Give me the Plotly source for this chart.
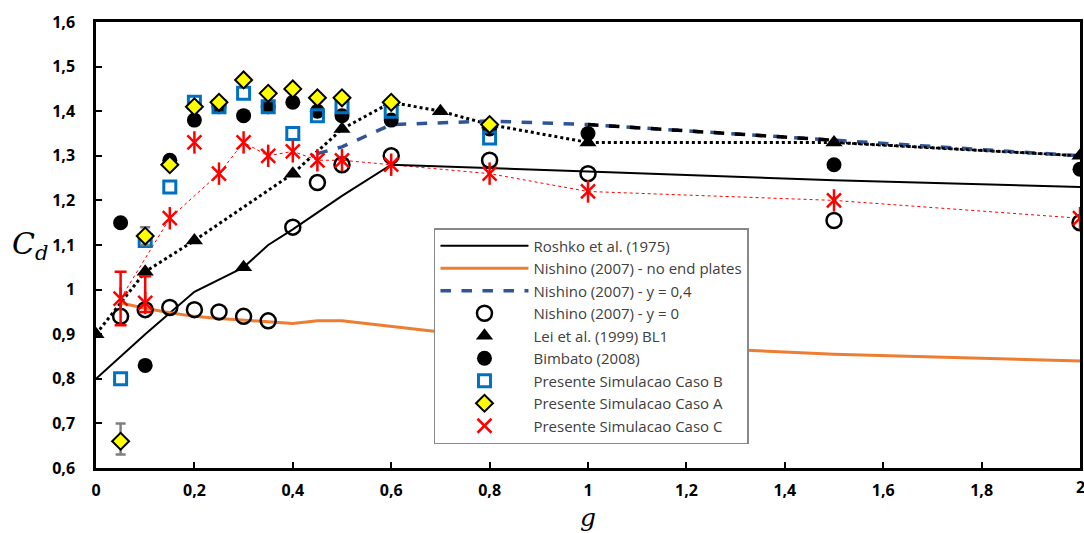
import plotly.graph_objects as go

# --- Roshko et al. (1975)
roshko_g = [0.0, 0.1, 0.2, 0.3, 0.35, 0.4, 0.5, 0.6, 1.0, 1.5, 2.0]
roshko_cd = [0.80, 0.90, 0.995, 1.05, 1.10, 1.135, 1.21, 1.28, 1.265, 1.245, 1.23]

# --- Nishino (2007), no end plates
nep_g = [0.05, 0.1, 0.15, 0.2, 0.25, 0.3, 0.35, 0.4, 0.45, 0.5, 0.6, 0.7, 0.8, 1.0, 1.2, 1.5, 2.0]
nep_cd = [0.97, 0.958, 0.948, 0.94, 0.935, 0.932, 0.928, 0.924, 0.93, 0.93, 0.918, 0.905, 0.895, 0.882, 0.87, 0.855, 0.84]

# --- Nishino (2007), y = 0,4
n04_g = [0.45, 0.5, 0.6, 0.8, 1.0, 1.5, 2.0]
n04_cd = [1.305, 1.32, 1.37, 1.378, 1.37, 1.335, 1.30]

# --- Nishino (2007), y = 0
n0_g = [0.05, 0.1, 0.15, 0.2, 0.25, 0.3, 0.35, 0.4, 0.45, 0.5, 0.6, 0.8, 1.0, 1.5, 2.0]
n0_cd = [0.94, 0.955, 0.96, 0.955, 0.95, 0.94, 0.93, 1.14, 1.24, 1.28, 1.30, 1.29, 1.26, 1.155, 1.15]

# --- Lei et al. (1999) BL1
lei_g = [0.0, 0.1, 0.2, 0.3, 0.4, 0.5, 0.6, 0.7, 0.8, 1.0, 1.5, 2.0]
lei_cd = [0.90, 1.04, 1.11, 1.05, 1.26, 1.36, 1.42, 1.40, 1.37, 1.33, 1.33, 1.30]
lei_linked = [0, 1, 2, 4, 5, 6, 7, 8, 9, 10, 11]

# --- Bimbato (2008)
bim_g = [0.05, 0.1, 0.15, 0.2, 0.25, 0.3, 0.35, 0.4, 0.45, 0.5, 0.6, 0.8, 1.0, 1.5, 2.0]
bim_cd = [1.15, 0.83, 1.29, 1.38, 1.41, 1.39, 1.41, 1.42, 1.40, 1.39, 1.38, 1.36, 1.35, 1.28, 1.27]

# --- Presente simulacao, caso B
cb_g = [0.05, 0.1, 0.15, 0.2, 0.25, 0.3, 0.35, 0.4, 0.45, 0.5, 0.6, 0.8]
cb_cd = [0.80, 1.11, 1.23, 1.42, 1.41, 1.44, 1.41, 1.35, 1.39, 1.41, 1.40, 1.34]

# --- Presente simulacao, caso A (with error bars on the first two points)
ca_g = [0.05, 0.1, 0.15, 0.2, 0.25, 0.3, 0.35, 0.4, 0.45, 0.5, 0.6, 0.8]
ca_cd = [0.66, 1.12, 1.28, 1.41, 1.42, 1.47, 1.44, 1.45, 1.43, 1.43, 1.42, 1.37]
ca_err_idx = [0, 1]
ca_err_plus = [0.04, 0.02]
ca_err_minus = [0.03, 0.02]

# --- Presente simulacao, caso C (with error bars on the first two points)
cc_g = [0.05, 0.1, 0.15, 0.2, 0.25, 0.3, 0.35, 0.4, 0.45, 0.5, 0.6, 0.8, 1.0, 1.5, 2.0]
cc_cd = [0.98, 0.97, 1.16, 1.33, 1.26, 1.33, 1.30, 1.31, 1.29, 1.29, 1.28, 1.26, 1.22, 1.20, 1.16]
cc_linked = [0, 2, 4, 5, 6, 7, 8, 9, 10, 11, 12, 13, 14]
cc_err_idx = [0, 1]
cc_err_plus = [0.06, 0.06]
cc_err_minus = [0.06, 0.02]

x_ticks = [0, 0.2, 0.4, 0.6, 0.8, 1.0, 1.2, 1.4, 1.6, 1.8, 2.0]
y_ticks = [0.6, 0.7, 0.8, 0.9, 1.0, 1.1, 1.2, 1.3, 1.4, 1.5, 1.6]

BLUE_DASH = "#2F5597"
ORANGE = "#ED7D31"
SQ_BLUE = "#0070C0"
TICK_FONT = dict(family="Open Sans", size=16, color="black", weight="bold")

PLOT_L, PLOT_W, PLOT_T, PLOT_H = 96, 987, 22, 446
X_STANDOFF = 6

fig = go.Figure()


def pick(vals, idx):
    return [vals[i] for i in idx]


# lines without legend entries
fig.add_trace(go.Scatter(x=pick(lei_g, lei_linked), y=pick(lei_cd, lei_linked), mode="lines",
                         line=dict(color="black", width=3, dash="dot"), showlegend=False, hoverinfo="skip"))
fig.add_trace(go.Scatter(x=pick(cc_g, cc_linked), y=pick(cc_cd, cc_linked), mode="lines",
                         line=dict(color="red", width=1, dash="dot"), showlegend=False, hoverinfo="skip"))

# legend entries, in order
fig.add_trace(go.Scatter(x=roshko_g, y=roshko_cd, mode="lines", name="Roshko et al. (1975)",
                         legendgroup="a", line=dict(color="black", width=2)))
fig.add_trace(go.Scatter(x=nep_g, y=nep_cd, mode="lines", name="Nishino (2007) - no end plates",
                         legendgroup="b", line=dict(color=ORANGE, width=3)))
fig.add_trace(go.Scatter(x=n04_g, y=n04_cd, mode="lines", name="Nishino (2007) - y = 0,4",
                         legendgroup="c", line=dict(color=BLUE_DASH, width=3.5, dash="dash")))
# the 1,0 - 1,5 stretch of the y = 0,4 curve is drawn in black
seg = [4, 5]
fig.add_trace(go.Scatter(x=pick(n04_g, seg), y=pick(n04_cd, seg), mode="lines", showlegend=False,
                         line=dict(color="black", width=3.5, dash="dash"), hoverinfo="skip"))
# dotted Lei line runs over the last blue segment
seg2 = [10, 11]
fig.add_trace(go.Scatter(x=pick(lei_g, seg2), y=pick(lei_cd, seg2), mode="lines", showlegend=False,
                         line=dict(color="black", width=2.5, dash="dot"), hoverinfo="skip"))

fig.add_trace(go.Scatter(x=n0_g, y=n0_cd, mode="markers", name="Nishino (2007) - y = 0", legendgroup="d",
                         marker=dict(symbol="circle-open", size=15, color="black", line=dict(width=2.5))))
fig.add_trace(go.Scatter(x=lei_g, y=lei_cd, mode="markers", name="Lei et al. (1999) BL1", legendgroup="e",
                         marker=dict(symbol="triangle-up", size=15, color="black")))
fig.add_trace(go.Scatter(x=bim_g, y=bim_cd, mode="markers", name="Bimbato (2008)", legendgroup="f",
                         marker=dict(symbol="circle", size=15, color="black")))
fig.add_trace(go.Scatter(x=cb_g, y=cb_cd, mode="markers", name="Presente Simulacao Caso B", legendgroup="g",
                         marker=dict(symbol="square-open", size=12, color=SQ_BLUE, line=dict(width=3))))

# error bars (caso A, grey)
fig.add_trace(go.Scatter(x=pick(ca_g, ca_err_idx), y=pick(ca_cd, ca_err_idx), mode="markers",
                         marker=dict(size=1, opacity=0), showlegend=False, hoverinfo="skip",
                         error_y=dict(type="data", symmetric=False, array=ca_err_plus, arrayminus=ca_err_minus,
                                      color="#7F7F7F", thickness=2.5, width=5)))
fig.add_trace(go.Scatter(x=ca_g, y=ca_cd, mode="markers", name="Presente Simulacao Caso A", legendgroup="h",
                         marker=dict(symbol="diamond", size=13, color="#FFFF00", line=dict(color="black", width=2))))

# error bars (caso C, red)
fig.add_trace(go.Scatter(x=pick(cc_g, cc_err_idx), y=pick(cc_cd, cc_err_idx), mode="markers",
                         marker=dict(size=1, opacity=0), showlegend=False, hoverinfo="skip",
                         error_y=dict(type="data", symmetric=False, array=cc_err_plus, arrayminus=cc_err_minus,
                                      color="red", thickness=2.5, width=6)))
fig.add_trace(go.Scatter(x=cc_g, y=cc_cd, mode="markers", name="Presente Simulacao Caso C", legendgroup="i",
                         marker=dict(symbol="x-thin-open", size=14, color="red", line=dict(color="red", width=2.5))))
fig.add_trace(go.Scatter(x=cc_g, y=cc_cd, mode="markers", showlegend=False, hoverinfo="skip",
                         marker=dict(symbol="line-ns-open", size=16, color="red", line=dict(color="red", width=2.5))))

axis_common = dict(
    showgrid=False, zeroline=False, showline=True, linecolor="black", linewidth=2.5, mirror=True,
    ticks="inside", ticklen=6, tickwidth=2, tickcolor="black", tickfont=TICK_FONT,
)

fig.update_layout(
    width=1084, height=533,
    margin=dict(l=PLOT_L, r=1, t=PLOT_T, b=533 - PLOT_T - PLOT_H),
    paper_bgcolor="white", plot_bgcolor="white",
    separators=", ",
    xaxis=dict(range=[0, 2], tickvals=x_ticks, ticklabelstandoff=X_STANDOFF, **axis_common),
    yaxis=dict(range=[0.6, 1.6], tickvals=y_ticks, ticklabelstandoff=15, **axis_common),
    legend=dict(
        x=(435 - PLOT_L) / PLOT_W, y=(PLOT_T + PLOT_H - 228) / PLOT_H, xanchor="left", yanchor="top",
        bgcolor="white", bordercolor="#888888", borderwidth=1.5,
        font=dict(family="Open Sans", size=15, color="#404040"),
        itemwidth=88, tracegroupgap=0, traceorder="grouped",
    ),
    annotations=[
        dict(text="<i>C<sub>d</sub></i>", x=(30 - PLOT_L) / PLOT_W, y=1.1, xref="paper", yref="y",
             showarrow=False, xanchor="center", yanchor="middle",
             font=dict(family="DejaVu Serif", size=30, color="black")),
        dict(text="<i>g</i>", x=1.0, y=-(517 - PLOT_T - PLOT_H) / PLOT_H, xref="x", yref="paper",
             showarrow=False, xanchor="center", yanchor="middle",
             font=dict(family="DejaVu Serif", size=25, color="black")),
        # the last x tick label sits on the right edge of the page
        dict(text=str(x_ticks[-1]).rstrip("0").rstrip("."), x=x_ticks[-1], y=0, xref="x", yref="paper",
             showarrow=False, xanchor="center", yanchor="top", yshift=-X_STANDOFF, font=TICK_FONT),
    ],
)

fig.write_html("out.html")
